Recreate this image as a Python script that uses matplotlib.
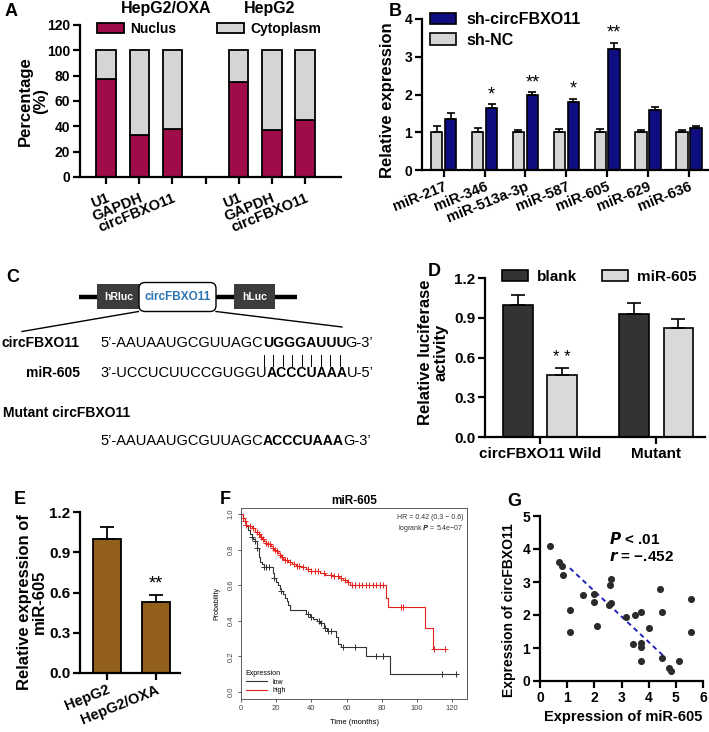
import numpy as np
import matplotlib
matplotlib.use("Agg")
import matplotlib.pyplot as plt
from matplotlib.patches import Patch, Rectangle, FancyBboxPatch
from matplotlib.lines import Line2D

plt.rcParams['font.family'] = ['Liberation Sans', 'DejaVu Sans']
plt.rcParams['font.weight'] = 'bold'
plt.rcParams['axes.labelweight'] = 'bold'

# ---- data ----
# A: nuclear / cytoplasmic fractions
a_labels = ['U1', 'GAPDH', 'circFBXO11', '', 'U1', 'GAPDH', 'circFBXO11']
a_pos = [0, 1, 2, 4, 5, 6]
a_nucleus = np.array([77, 33, 38, 75, 37, 45])

# B: miRNA expression
b_mirs = ['miR-217', 'miR-346', 'miR-513a-3p', 'miR-587', 'miR-605', 'miR-629', 'miR-636']
b_nc = [1.0, 1.0, 1.0, 1.0, 1.0, 1.0, 1.0]
b_nc_err = [0.16, 0.1, 0.06, 0.08, 0.08, 0.06, 0.05]
b_sh = [1.35, 1.65, 2.0, 1.8, 3.2, 1.6, 1.1]
b_sh_err = [0.15, 0.09, 0.06, 0.08, 0.17, 0.08, 0.06]
b_stars = ['', '*', '**', '*', '**', '', '']

# C: sequences (plain head, bold site, plain tail)
seq_circ = ['5\u2019-AAUAAUGCGUUAGC', 'UGGGAUUU', 'G-3\u2019']
seq_mir = ['3\u2019-UCCUCUUCCGUGGU', 'ACCCUAAA', 'U-5\u2019']
seq_mut = ['5\u2019-AAUAAUGCGUUAGC', 'ACCCUAAA', 'G-3\u2019']

# D: luciferase
d_groups = ['circFBXO11 Wild', 'Mutant']
d_blank = [1.0, 0.93]
d_blank_err = [0.07, 0.08]
d_mir = [0.47, 0.82]
d_mir_err = [0.05, 0.07]

# E: miR-605 expression
e_cells = ['HepG2', 'HepG2/OXA']
e_vals = [1.0, 0.53]
e_err = [0.09, 0.05]

# F: Kaplan-Meier
low_t = [0, 1, 2, 3, 4, 5, 6, 7, 8, 9, 10, 11, 12, 13, 18, 19, 20, 21, 22, 23, 24, 25, 26, 27, 28,
         37, 39, 41, 43, 45, 47, 49, 54, 55, 57, 71, 85]
low_s = [1.0, 0.98, 0.96, 0.93, 0.91, 0.89, 0.87, 0.86, 0.85, 0.81, 0.76, 0.73, 0.72, 0.70, 0.67,
         0.64, 0.62, 0.60, 0.58, 0.57, 0.55, 0.53, 0.51, 0.49, 0.46, 0.44, 0.42, 0.41, 0.40, 0.385,
         0.36, 0.34, 0.31, 0.27, 0.25, 0.20, 0.10]
low_end = 123
high_t = [0, 1, 2, 3, 4, 6, 8, 10, 11, 12, 13, 14, 15, 17, 18, 19, 20, 21, 22, 23, 24, 25, 27, 29,
          31, 34, 37, 40, 45, 48, 52, 56, 58, 60, 62, 82.5, 83.5, 104.5, 109]
high_s = [1.0, 0.98, 0.96, 0.94, 0.93, 0.92, 0.90, 0.89, 0.87, 0.86, 0.85, 0.84, 0.83, 0.82, 0.81,
          0.80, 0.79, 0.78, 0.77, 0.76, 0.75, 0.74, 0.73, 0.72, 0.71, 0.70, 0.69, 0.68, 0.67, 0.66,
          0.65, 0.64, 0.63, 0.62, 0.60, 0.53, 0.48, 0.36, 0.24]
high_end = 116.5
low_cens = [6, 8, 9, 13, 14, 16, 19, 23, 38, 40, 44.5, 45.5, 48, 49.5, 51, 58, 65, 77, 80.5, 81,
            114.5, 122.5]
high_cens = [1, 2, 3, 5, 7, 9, 10, 11.5, 12.5, 14, 15.5, 16.5, 18, 19.5, 20.5, 22, 23.5, 25, 26,
             28, 30, 32, 33, 35, 38, 40, 42, 44, 47, 51, 53, 55, 57, 59, 61, 63, 65, 67, 69, 71,
             73, 75, 77, 79, 81, 91, 92, 110, 116]

# G: correlation
g_x = [0.37, 0.71, 0.81, 0.83, 1.1, 1.1, 1.59, 1.98, 1.98, 2.08, 2.57, 2.62, 2.6, 2.55, 3.15,
       3.43, 3.51, 3.73, 3.73, 3.73, 3.73, 4.01, 4.41, 4.49, 4.49, 4.74, 4.81, 5.1, 5.54, 5.54]
g_y = [4.1, 3.6, 3.5, 3.2, 2.15, 1.5, 2.6, 2.65, 2.38, 1.68, 2.9, 3.1, 2.35, 2.3, 1.93,
       1.13, 2.0, 2.1, 1.15, 1.03, 0.6, 1.6, 2.8, 2.1, 0.7, 0.4, 0.3, 0.6, 2.5, 1.5]
g_fit_x = [1.1, 4.6]
g_fit_y = [3.42, 0.72]

RED = '#A00C4A'
GREY = '#D5D5D5'
NAVY = '#0E0E80'
BROWN = '#93601C'

W, H = 709, 732
fig = plt.figure(figsize=(W / 100, H / 100), dpi=100)


def box(l, t, r, b):
    return [l / W, 1 - b / H, (r - l) / W, (b - t) / H]


def prism(ax, fs=10):
    for s in ['top', 'right']:
        ax.spines[s].set_visible(False)
    for s in ['left', 'bottom']:
        ax.spines[s].set_linewidth(1.6)
    ax.tick_params(width=1.6, length=5, labelsize=fs, pad=2)


def letter(x, y, s):
    fig.text(x / W, 1 - y / H, s, fontsize=13, fontweight='bold', va='center', ha='left')


# ---------- A ----------
ax = fig.add_axes(box(80, 25, 341, 177))
prism(ax)
ax.bar(a_pos, a_nucleus, width=0.59, color=RED, edgecolor='k', lw=1.3)
ax.bar(a_pos, 100 - a_nucleus, bottom=a_nucleus, width=0.59, color=GREY, edgecolor='k', lw=1.3)
ax.set_xlim(-0.79, 7.09)
ax.set_ylim(0, 120)
ax.set_yticks(range(0, 121, 20))
ax.set_xticks(range(7))
ax.set_xticklabels(a_labels, rotation=22, ha='right', rotation_mode='anchor', fontsize=10.5)
ax.tick_params(axis='x', pad=5)
ax.set_ylabel('Percentage\n(%)', fontsize=12, linespacing=1.0)
ax.yaxis.set_label_coords(-0.123, 0.5)
ax.legend(handles=[Patch(fc=RED, ec='k', lw=1.3, label='Nuclus'),
                   Patch(fc=GREY, ec='k', lw=1.3, label='Cytoplasm')],
          ncol=2, frameon=False, fontsize=10, loc='center left',
          bbox_to_anchor=(97 / W, 1 - 29 / H), bbox_transform=fig.transFigure,
          borderpad=0, borderaxespad=0, handlelength=1.95, handleheight=0.75,
          handletextpad=0.45, columnspacing=2.9)
fig.text(166 / W, 1 - 9 / H, 'HepG2/OXA', fontsize=11.5, ha='center', va='center')
fig.text(270 / W, 1 - 8 / H, 'HepG2', fontsize=11.5, ha='center', va='center')
letter(5, 12, 'A')

# ---------- B ----------
ax = fig.add_axes(box(422, 19, 709, 170))
prism(ax)
xb = np.arange(len(b_mirs))
ax.bar(xb - 0.17, b_nc, width=0.28, color=GREY, edgecolor='k', lw=1.2)
ax.bar(xb + 0.17, b_sh, width=0.28, color=NAVY, edgecolor='k', lw=1.2)
ax.errorbar(xb - 0.17, b_nc, yerr=[np.zeros(7), b_nc_err], fmt='none', ecolor='k', capsize=3, elinewidth=1.2, capthick=1.2)
ax.errorbar(xb + 0.17, b_sh, yerr=[np.zeros(7), b_sh_err], fmt='none', ecolor='k', capsize=3, elinewidth=1.2, capthick=1.2)
for i, s in enumerate(b_stars):
    if s:
        ax.text(xb[i] + 0.17, b_sh[i] + b_sh_err[i] + 0.03, s, ha='center', va='bottom', fontsize=13, fontweight='normal')
ax.set_xlim(-0.53, 6.49)
ax.set_ylim(0, 4)
ax.set_yticks(range(5))
ax.set_xticks(xb)
ax.set_xticklabels(b_mirs, rotation=22, ha='right', rotation_mode='anchor', fontsize=10.5)
ax.set_ylabel('Relative expression', fontsize=12)
ax.yaxis.set_label_coords(-0.094, 0.46)
ax.legend(handles=[Patch(fc=NAVY, ec='k', lw=1.2, label='sh-circFBXO11'),
                   Patch(fc=GREY, ec='k', lw=1.2, label='sh-NC')],
          frameon=False, fontsize=11.5, loc='upper left',
          bbox_to_anchor=(430 / W, 1 - 12 / H), bbox_transform=fig.transFigure,
          borderpad=0, borderaxespad=0, handlelength=1.6, handleheight=0.7,
          handletextpad=0.7, labelspacing=0.35)
letter(389, 12, 'B')

# ---------- C (schematic) ----------
cax = fig.add_axes([0, 1 - 460 / H, 360 / W, 210 / H])
cax.set_xlim(0, 360)
cax.set_ylim(460, 250)
cax.axis('off')
cax.plot([79, 297], [297, 297], color='k', lw=3.2, solid_capstyle='butt', zorder=1)
cax.add_patch(Rectangle((97, 284), 43, 25.5, fc='#3C3C3C', ec='none', zorder=2))
cax.add_patch(Rectangle((234, 284), 41, 25.5, fc='#3C3C3C', ec='none', zorder=2))
cax.add_patch(FancyBboxPatch((139, 282.5), 77, 29, boxstyle='round,pad=0,rounding_size=6',
                             fc='white', ec='k', lw=1.0, zorder=3))
cax.text(118.5, 297, 'hRluc', color='white', fontsize=7.5, ha='center', va='center', zorder=4)
cax.text(254.5, 297, 'hLuc', color='white', fontsize=7.5, ha='center', va='center', zorder=4)
cax.text(177.5, 297.5, 'circFBXO11', color='#2E75B6', fontsize=8.5, ha='center', va='center', zorder=4)
cax.plot([138.5, 22], [311.5, 331.5], color='k', lw=1.0)
cax.plot([216, 342], [311.5, 327], color='k', lw=1.0)

inv = cax.transData.inverted()


def data_span(t):
    fig.canvas.draw()
    bb = t.get_window_extent()
    return inv.transform((bb.x0, 0))[0], inv.transform((bb.x1, 0))[0]


def seq_line(x, y, parts):
    out = []
    for k, s in enumerate(parts):
        b = (k == 1)
        t = cax.text(x, y, s, family='Liberation Sans', fontsize=10.1 if b else 10.5,
                     fontweight='bold' if b else 'normal', ha='left', va='baseline')
        out.append(t)
        x = data_span(t)[1] + (-1 if b else 0.5)
    return out


cax.text(80, 343, 'circFBXO11', fontsize=10, ha='right', va='center')
s1 = seq_line(100, 347.5, seq_circ)
cax.text(80, 373, 'miR-605', fontsize=10, ha='right', va='center')
seq_line(100, 377.5, seq_mir)
cax.text(3, 413, 'Mutant circFBXO11', fontsize=10, ha='left', va='center')
seq_line(100, 445.5, seq_mut)
letter(6, 278, 'C')

# base-pair ticks under the binding site
bx0, bx1 = data_span(s1[1])
for xx in np.linspace(bx0 + 0.5, bx1 - 7, 9):
    cax.plot([xx, xx], [355, 366], color='k', lw=0.7)

# ---------- D ----------
ax = fig.add_axes(box(485, 278, 705, 437))
prism(ax, 11)
xd = np.arange(2)
ax.bar(xd - 0.19, d_blank, width=0.254, color='#333333', edgecolor='k', lw=1.2)
ax.bar(xd + 0.19, d_mir, width=0.254, color='#D9D9D9', edgecolor='k', lw=1.2)
ax.errorbar(xd - 0.19, d_blank, yerr=[np.zeros(2), d_blank_err], fmt='none', ecolor='k', capsize=5, elinewidth=1.2, capthick=1.2)
ax.errorbar(xd + 0.19, d_mir, yerr=[np.zeros(2), d_mir_err], fmt='none', ecolor='k', capsize=5, elinewidth=1.2, capthick=1.2)
ax.text(0.19, d_mir[0] + d_mir_err[0] + 0.02, '* *', ha='center', va='bottom', fontsize=12, fontweight='normal')
ax.set_xlim(-0.474, 1.42)
ax.set_ylim(0, 1.2)
ax.set_yticks([0, 0.3, 0.6, 0.9, 1.2])
ax.set_yticklabels(['0.0', '0.3', '0.6', '0.9', '1.2'])
ax.set_xticks(xd)
ax.set_xticklabels(d_groups, fontsize=11)
ax.set_ylabel('Relative luciferase\nactivity', fontsize=12, linespacing=1.0)
ax.yaxis.set_label_coords(-0.168, 0.53)
ax.legend(handles=[Patch(fc='#333333', ec='k', lw=1.2, label='blank'),
                   Patch(fc='#D9D9D9', ec='k', lw=1.2, label='miR-605')],
          ncol=2, frameon=False, fontsize=11, loc='center left',
          bbox_to_anchor=(502 / W, 1 - 277 / H), bbox_transform=fig.transFigure,
          borderpad=0, borderaxespad=0, handlelength=1.7, handleheight=0.7,
          handletextpad=0.6, columnspacing=1.6)
letter(428, 272, 'D')

# ---------- E ----------
ax = fig.add_axes(box(80, 512, 180, 673))
prism(ax, 11)
xe = np.arange(2)
ax.bar(xe, e_vals, width=0.59, color=BROWN, edgecolor='k', lw=1.3)
ax.errorbar(xe, e_vals, yerr=[np.zeros(2), e_err], fmt='none', ecolor='k', capsize=5, elinewidth=1.3, capthick=1.3)
ax.text(1, e_vals[1] + e_err[1] + 0.02, '**', ha='center', va='bottom', fontsize=13, fontweight='normal')
ax.set_xlim(-0.55, 1.49)
ax.set_ylim(0, 1.2)
ax.set_yticks([0, 0.3, 0.6, 0.9, 1.2])
ax.set_yticklabels(['0.0', '0.3', '0.6', '0.9', '1.2'])
ax.set_xticks(xe)
ax.set_xticklabels(e_cells, rotation=22, ha='right', rotation_mode='anchor', fontsize=10.5)
ax.set_ylabel('Relative expression of\nmiR-605', fontsize=12, linespacing=1.0)
ax.yaxis.set_label_coords(-0.33, 0.44)
letter(14, 500, 'E')

# ---------- F ----------
ax = fig.add_axes(box(241, 508, 467, 699))
for s in ax.spines.values():
    s.set_linewidth(0.6)
    s.set_color('#444444')


def step_at(t, s, c):
    idx = np.searchsorted(t, c, side='right') - 1
    return np.array(s)[idx]


ax.step(low_t + [low_end], low_s + [low_s[-1]], where='post', color='#333333', lw=0.8)
ax.step(high_t + [high_end], high_s + [high_s[-1]], where='post', color='#E8211D', lw=0.8)
ax.plot(low_cens, step_at(low_t, low_s, low_cens), '+', color='#333333', ms=4, mew=0.7)
ax.plot(high_cens, step_at(high_t, high_s, high_cens), '+', color='#E8211D', ms=4, mew=0.7)
ax.set_xlim(0, 128.5)
ax.set_ylim(-0.04, 1.034)
ax.set_xticks(range(0, 121, 20))
ax.set_yticks([0, 0.2, 0.4, 0.6, 0.8, 1.0])
ax.set_yticklabels(['0.0', '0.2', '0.4', '0.6', '0.8', '1.0'])
ax.tick_params(labelsize=5.5, length=2.5, width=0.6, pad=2, colors='#444444')
plt.setp(ax.get_xticklabels(), fontweight='normal')
plt.setp(ax.get_yticklabels(), fontweight='normal', rotation=90, va='center')
ax.set_xlabel('Time (months)', fontsize=5.5, fontweight='normal', labelpad=5)
ax.set_ylabel('Probability', fontsize=5, fontweight='normal', labelpad=5)
ax.set_title('miR-605', fontsize=8.5, fontweight='bold', pad=3)
ax.text(0.985, 0.97, 'HR = 0.42 (0.3 \u2212 0.6)\nlogrank $\\it{P}$ = 5.4e\u221207', transform=ax.transAxes,
        ha='right', va='top', fontsize=5, fontweight='normal', color='#333333', linespacing=1.3)
leg = ax.legend(handles=[Line2D([], [], color='#333333', lw=0.8, label='low'),
                         Line2D([], [], color='#E8211D', lw=0.8, label='high')],
                title='Expression', loc='lower left', frameon=False,
                title_fontsize=5, handlelength=3, borderaxespad=0.3, labelspacing=0.2,
                prop={'size': 5, 'weight': 'normal'})
leg.get_title().set_fontweight('normal')
leg._legend_box.align = 'left'
letter(220, 500, 'F')

# ---------- G ----------
ax = fig.add_axes(box(540, 516, 703, 681))
prism(ax, 10)
ax.scatter(g_x, g_y, s=26, color='#2B2B2B', zorder=3, linewidths=0)
ax.plot(g_fit_x, g_fit_y, '--', color='#2222BB', lw=1.4, dashes=(2.5, 2))
ax.set_xlim(0, 6)
ax.set_ylim(0, 5)
ax.set_xticks(range(7))
ax.set_yticks(range(6))
ax.text(2.55, 4.15, '$\\bf{\\it{P}}$ < .01', fontsize=11)
ax.text(2.55, 3.65, '$\\bf{\\it{r}}$ = \u2212.452', fontsize=11)
ax.set_ylabel('Expression of circFBXO11', fontsize=10)
ax.yaxis.set_label_coords(-0.147, 0.43)
ax.set_xlabel('Expression of miR-605', fontsize=10.5)
ax.xaxis.set_label_coords(0.51, -0.176)
letter(507, 502, 'G')

fig.savefig('out.png', dpi=100)
